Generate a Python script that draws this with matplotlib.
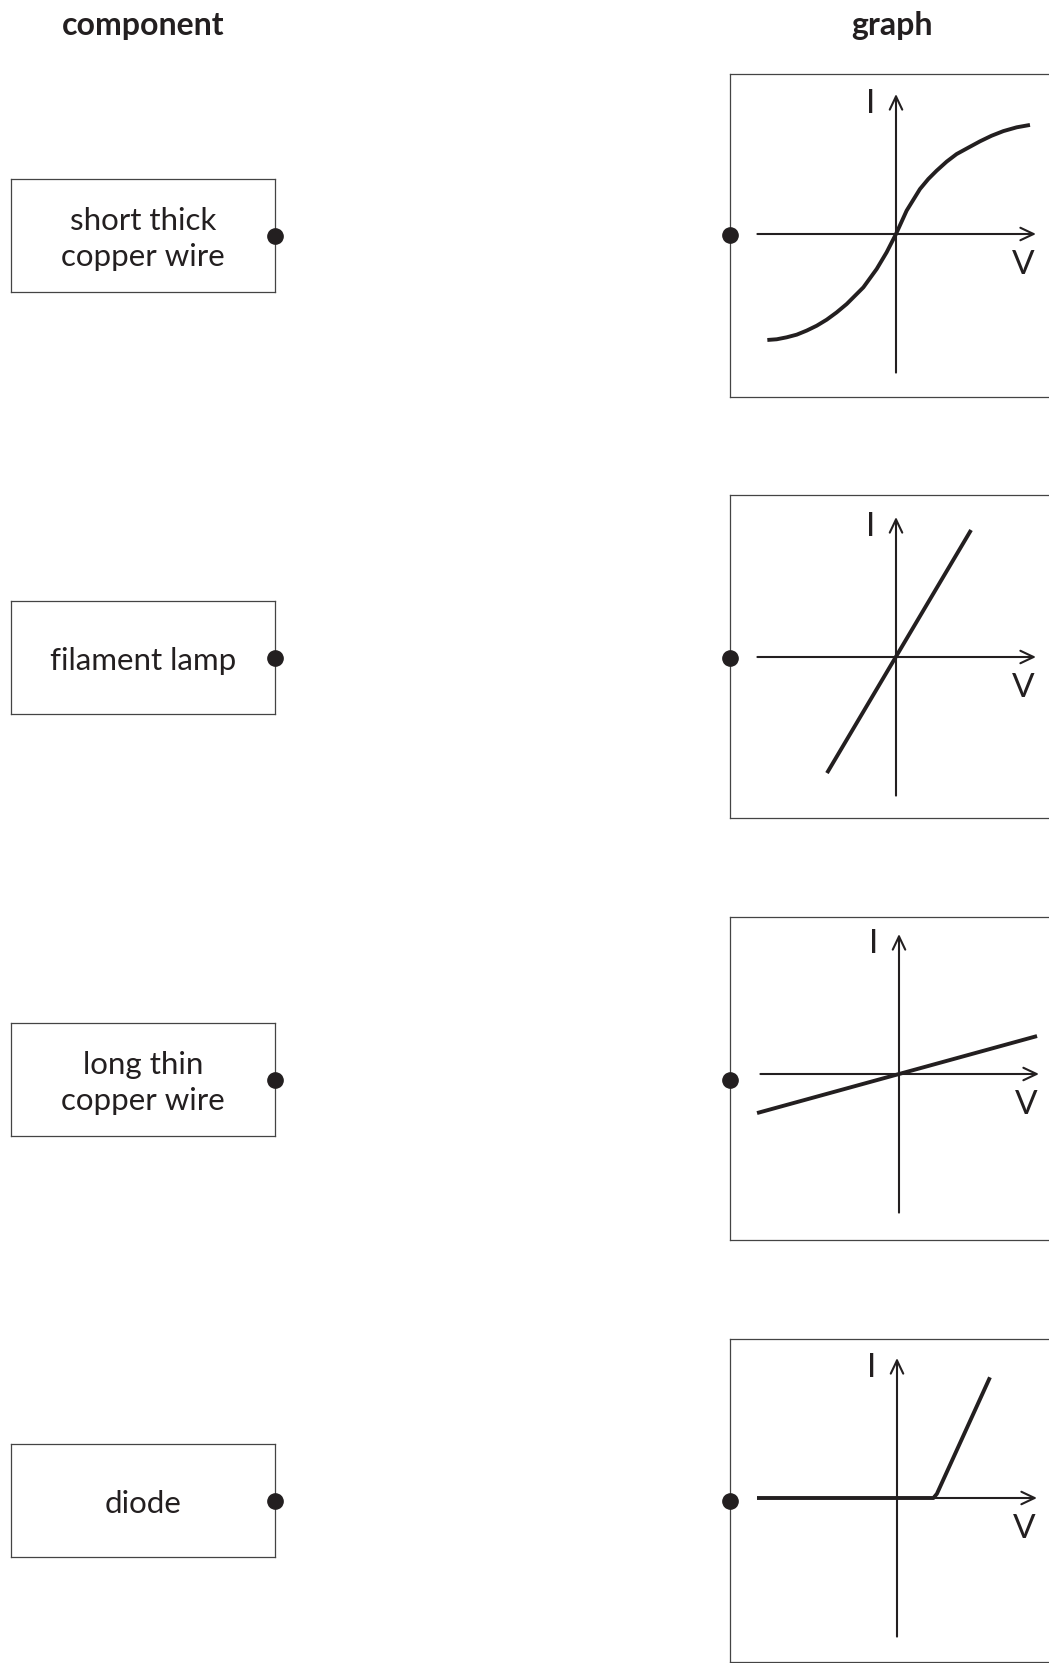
import matplotlib.pyplot as plt
from matplotlib.patches import FancyArrowPatch

plt.rcParams['font.family'] = ['Lato', 'DejaVu Sans']

INK = '#231f20'
W, H = 1049, 1663

components = ['short thick\ncopper wire', 'filament lamp', 'long thin\ncopper wire', 'diode']

# I-V curves (units: length of one half-axis)
s_curve_v = [-0.919, -0.852, -0.781, -0.709, -0.638, -0.566, -0.495, -0.424, -0.352,
             -0.233, -0.138, -0.067, 0.0, 0.076, 0.171, 0.231, 0.290, 0.362, 0.433,
             0.517, 0.600, 0.683, 0.767, 0.862, 0.957]
s_curve_i = [-0.757, -0.752, -0.738, -0.719, -0.690, -0.655, -0.612, -0.560, -0.500,
             -0.381, -0.250, -0.131, 0.0, 0.167, 0.321, 0.393, 0.452, 0.517, 0.571,
             0.617, 0.662, 0.702, 0.735, 0.762, 0.779]
steep_v = [-0.493, 0.536]
steep_i = [-0.829, 0.907]
shallow_v = [-1.014, 0.986]
shallow_i = [-0.279, 0.271]
diode_v = [-1.0, 0.26, 0.285, 0.664]
diode_i = [0.0, 0.0, 0.03, 0.862]

graphs = [(s_curve_v, s_curve_i), (steep_v, steep_i),
          (shallow_v, shallow_i), (diode_v, diode_i)]

# layout (pixels)
comp_tops = [179, 601, 1023, 1444]
graph_tops = [74, 495, 917, 1339]
origin_x = [896, 896, 899, 897]
origin_y = [234, 657, 1074, 1498]
dot_y = [235, 658, 1080, 1501]
unit = 140.0


def fig_rect(left, top, w, h):
    return [left / W, 1 - (top + h) / H, w / W, h / H]


fig = plt.figure(figsize=(W / 100, H / 100), dpi=100)

fig.text(143 / W, 1 - 25 / H, 'component', ha='center', va='center',
         fontsize=23, fontweight='bold', color=INK)
fig.text(892 / W, 1 - 25 / H, 'graph', ha='center', va='center',
         fontsize=23, fontweight='bold', color=INK)

for k in range(4):
    # component box
    ax = fig.add_axes(fig_rect(11, comp_tops[k], 264, 113))
    ax.set_xlim(0, 1)
    ax.set_ylim(0, 1)
    ax.set_xticks([])
    ax.set_yticks([])
    for sp in ax.spines.values():
        sp.set_color('#444444')
        sp.set_linewidth(0.9)
    ax.text(0.5, 0.47, components[k], ha='center', va='center',
            fontsize=22.5, color=INK, linespacing=1.32)
    ax.plot([1], [0.5], 'o', ms=11, color=INK, clip_on=False, zorder=5)

    # graph box
    top = graph_tops[k]
    ox, oy = origin_x[k], origin_y[k]
    gx = fig.add_axes(fig_rect(730, top, 340, 323))
    gx.set_xlim((730 - ox) / unit, (1070 - ox) / unit)
    gx.set_ylim(-(top + 323 - oy) / unit, (oy - top) / unit)
    gx.set_xticks([])
    gx.set_yticks([])
    for name, sp in gx.spines.items():
        sp.set_color('#444444')
        sp.set_linewidth(0.9)
    gx.spines['right'].set_visible(False)

    for start, end in [((-0.99, 0), (1.0, 0)), ((0, -0.99), (0, 1.0))]:
        arr = FancyArrowPatch(start, end, arrowstyle='->,head_length=0.95,head_width=0.45',
                              mutation_scale=10, lw=1.5, color=INK,
                              shrinkA=0, shrinkB=0)
        gx.add_patch(arr)
    gx.text(-0.18, 0.93, 'I', ha='center', va='center', fontsize=24, color=INK)
    gx.text(0.91, -0.22, 'V', ha='center', va='center', fontsize=24, color=INK)

    v, i = graphs[k]
    gx.plot(v, i, color=INK, lw=2.8, solid_capstyle='butt', solid_joinstyle='round')

    gx.plot([(730 - ox) / unit], [(oy - dot_y[k]) / unit], 'o', ms=11,
            color=INK, clip_on=False, zorder=5)

fig.savefig('out.png', dpi=100)
